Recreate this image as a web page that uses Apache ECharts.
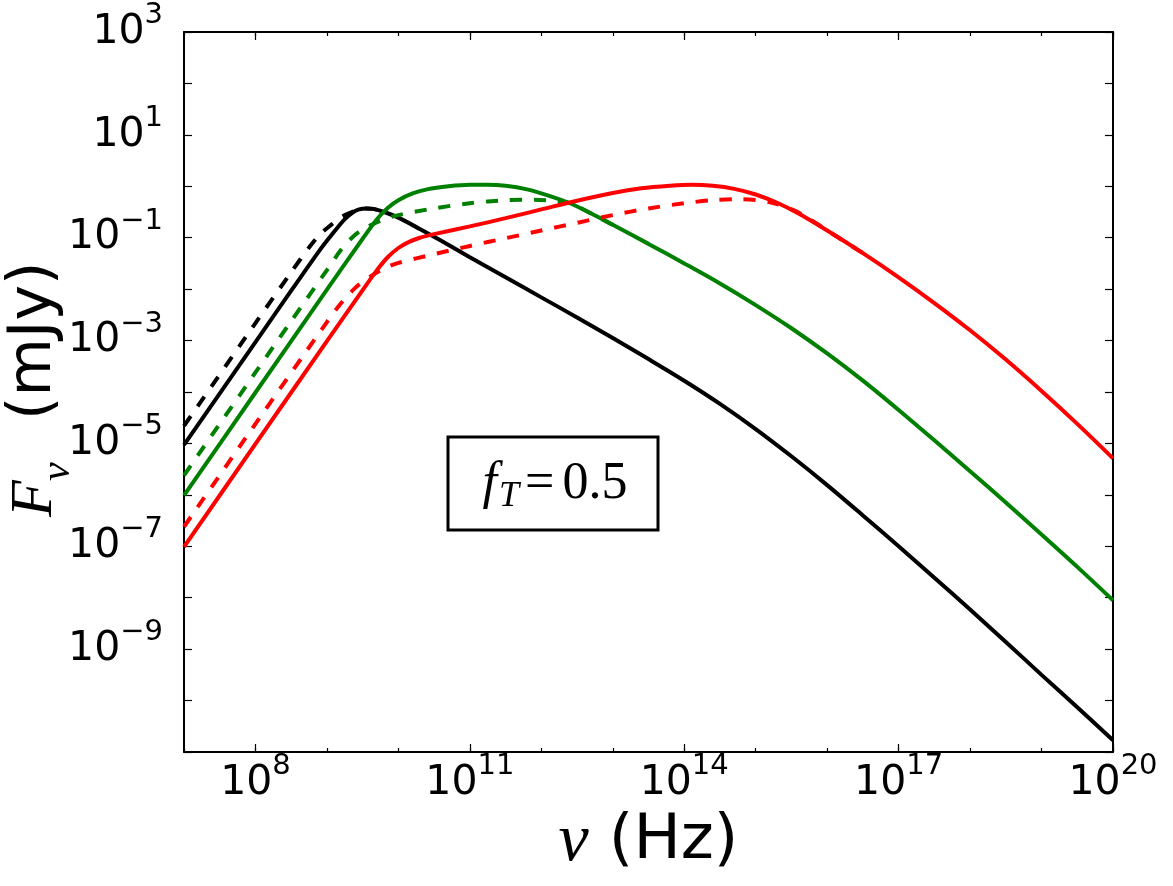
<!DOCTYPE html>
<html>
<head>
<meta charset="utf-8">
<title>F_nu spectrum</title>
<script src="https://cdn.jsdelivr.net/npm/echarts@6/dist/echarts.min.js"></script>
<style>
    html, body, #main {
        margin: 0;
        padding: 0;
        width: 1173px;
        height: 886px;
        background: #fff;
    }
</style>
</head>
<body>
<div id="main"></div>
<script>
    // all values are [log10(nu / Hz), log10(F_nu / mJy)]
    var blackSolid = [[7, -5.03], [8, -3.03], [8.5, -2.03], [8.9, -1.24], [9.05, -0.97], [9.15, -0.8], [9.25, -0.64],
        [9.35, -0.52], [9.45, -0.45], [9.55, -0.43], [9.65, -0.44], [9.8, -0.5], [10, -0.61], [10.3, -0.83],
        [10.6, -1.06], [11, -1.38], [11.5, -1.77], [12, -2.16], [12.5, -2.55], [13, -2.95], [13.5, -3.36],
        [14, -3.78], [14.5, -4.23], [15, -4.72], [15.5, -5.25], [16, -5.81], [16.5, -6.4], [17, -7.0],
        [17.5, -7.61], [18, -8.23], [18.5, -8.86], [19, -9.5], [19.5, -10.13], [20, -10.77]];
    var blackDashed = [[7, -4.66], [8, -2.66], [8.5, -1.67], [8.75, -1.19], [8.9, -0.94], [9.05, -0.76], [9.2, -0.6],
        [9.35, -0.5], [9.45, -0.45], [9.55, -0.43], [9.65, -0.44], [9.8, -0.5]];
    var greenSolid = [[7, -6.01], [8, -4.01], [9, -2.01], [9.5, -1.02], [9.7, -0.64], [9.85, -0.42], [10, -0.27],
        [10.2, -0.14], [10.4, -0.06], [10.7, 0.0], [11, 0.03], [11.25, 0.03], [11.5, 0.01], [11.8, -0.06],
        [12.1, -0.18], [12.4, -0.33], [12.7, -0.53], [13, -0.75], [13.5, -1.12], [14, -1.5], [14.5, -1.89],
        [15, -2.31], [15.5, -2.76], [16, -3.25], [16.5, -3.78], [17, -4.35], [17.5, -4.94], [18, -5.54],
        [18.5, -6.15], [19, -6.77], [19.5, -7.4], [20, -8.05]];
    var greenDashed = [[7, -5.62], [8, -3.62], [8.5, -2.62], [9, -1.63], [9.2, -1.23], [9.35, -1.0], [9.5, -0.84],
        [9.75, -0.67], [10, -0.56], [10.5, -0.43], [11, -0.33], [11.5, -0.27], [11.9, -0.26], [12.2, -0.29],
        [12.4, -0.33], [12.7, -0.53], [13, -0.75]];
    var redSolid = [[7, -7.01], [8, -5.01], [9, -3.01], [9.5, -2.02], [9.7, -1.63], [9.85, -1.38], [10, -1.2],
        [10.15, -1.08], [10.3, -1.0], [10.5, -0.93], [11, -0.78], [11.5, -0.62], [12, -0.45], [12.5, -0.28],
        [13, -0.13], [13.4, -0.04], [13.8, 0.01], [14.1, 0.03], [14.4, 0.01], [14.7, -0.05], [15, -0.16],
        [15.3, -0.32], [15.6, -0.53], [16, -0.86], [16.5, -1.3], [17, -1.77], [17.5, -2.27], [18, -2.8],
        [18.5, -3.37], [19, -3.98], [19.5, -4.62], [20, -5.29]];
    var redDashed = [[7, -6.62], [8, -4.62], [9, -2.64], [9.2, -2.27], [9.4, -1.97], [9.6, -1.76], [9.8, -1.6],
        [10, -1.49], [10.5, -1.32], [11, -1.16], [11.5, -1.01], [12, -0.86], [12.5, -0.71], [13, -0.56],
        [13.5, -0.43], [14, -0.33], [14.4, -0.27], [14.8, -0.25], [15.2, -0.31], [15.6, -0.51], [16, -0.86],
        [16.5, -1.3]];

    var xRange = [7, 20];          // decades of nu
    var yRange = [-11, 3];         // decades of F_nu
    var xLabelTicks = [8, 11, 14, 17, 20];
    var yLabelTicks = [3, 1, -1, -3, -5, -7, -9];
    var yTitle = ['F', '\u03bd', '(mJy)'];
    var annotation = ['f', 'T', '=', '0.5'];

    var L = 184, R = 1113, T = 32, B = 752;
    var decade = (R - L) / (xRange[1] - xRange[0]);

    var myChart = echarts.init(document.getElementById('main'));

    var sup = {
        b: {fontSize: 41, lineHeight: 62, fontFamily: 'DejaVu Sans', color: '#000'},
        s: {fontSize: 29, lineHeight: 29, verticalAlign: 'top', fontFamily: 'DejaVu Sans', color: '#000'}
    };
    function powLabel(v) {
        var n = Math.round(v);
        return '{b|10}{s|' + String(n).replace('-', '\u2212') + '}';
    }

    function line(data, color, dashed) {
        return {
            type: 'line',
            xAxisIndex: 0,
            yAxisIndex: 0,
            data: data,
            showSymbol: false,
            smooth: 0.3,
            animation: false,
            lineStyle: {color: color, width: 4, type: dashed ? [12, 12] : 'solid', cap: 'butt'}
        };
    }

    var frame = {show: true, onZero: false, lineStyle: {color: '#000', width: 2}};
    var noLine = {show: false, onZero: false};
    var tick = function (len) {
        return {inside: true, length: len, lineStyle: {color: '#000', width: 1.2}};
    };

    myChart.setOption({
        backgroundColor: '#fff',
        animation: false,
        grid: [
            {left: L, right: 1173 - R, top: T, bottom: 886 - B, outerBoundsMode: 'none'},
            {left: L + decade * (xLabelTicks[0] - xRange[0]), right: 1173 - R, top: T, bottom: 886 - B, outerBoundsMode: 'none'}
        ],
        xAxis: [
            {
                gridIndex: 0, type: 'value', position: 'bottom', min: xRange[0], max: xRange[1], interval: 1,
                axisLine: frame, axisTick: tick(4), axisLabel: {show: false}, splitLine: {show: false},
                name: '{i|\u03bd} (Hz)',
                nameLocation: 'middle',
                nameGap: 57,
                nameTextStyle: {
                    fontSize: 63, lineHeight: 66, fontFamily: 'DejaVu Sans', color: '#000',
                    rich: {i: {fontSize: 68, lineHeight: 66, fontFamily: 'Liberation Serif', fontStyle: 'italic', color: '#000'}}
                }
            },
            {
                gridIndex: 0, type: 'value', position: 'top', min: xRange[0], max: xRange[1], interval: 1,
                axisLine: frame, axisTick: tick(4), axisLabel: {show: false}, splitLine: {show: false}
            },
            {
                gridIndex: 1, type: 'value', position: 'bottom', min: xLabelTicks[0], max: xRange[1], interval: 3,
                axisLine: noLine, axisTick: tick(8), splitLine: {show: false},
                axisLabel: {
                    margin: 0,
                    formatter: function (v) { return xLabelTicks.indexOf(Math.round(v)) >= 0 ? powLabel(v) : ''; },
                    rich: sup
                }
            },
            {
                gridIndex: 1, type: 'value', position: 'top', min: xLabelTicks[0], max: xRange[1], interval: 3,
                axisLine: noLine, axisTick: tick(8), axisLabel: {show: false}, splitLine: {show: false}
            }
        ],
        yAxis: [
            {
                gridIndex: 0, type: 'value', position: 'left', min: yRange[0], max: yRange[1], interval: 1,
                axisLine: frame, axisTick: tick(8), splitLine: {show: false},
                axisLabel: {
                    margin: 21,
                    formatter: function (v) { return yLabelTicks.indexOf(Math.round(v)) >= 0 ? powLabel(v) : ''; },
                    rich: sup
                }
            },
            {
                gridIndex: 0, type: 'value', position: 'right', min: yRange[0], max: yRange[1], interval: 1,
                axisLine: frame, axisTick: tick(8), axisLabel: {show: false}, splitLine: {show: false}
            },
            {
                gridIndex: 1, type: 'value', min: yRange[0], max: yRange[1], show: false
            }
        ],
        graphic: [
            {
                // y axis title, rotated to read bottom to top
                type: 'group', x: 55, y: (T + B) / 2, rotation: Math.PI / 2,
                children: [
                    {type: 'text', x: -125, y: -20, style: {text: yTitle[0], fontSize: 60, fontFamily: 'Liberation Serif', fontStyle: 'italic', fill: '#000', align: 'left', verticalAlign: 'middle'}},
                    {type: 'text', x: -89, y: 3, style: {text: yTitle[1], fontSize: 42, fontFamily: 'Liberation Serif', fontStyle: 'italic', fill: '#000', align: 'left', verticalAlign: 'middle'}},
                    {type: 'text', x: -28, y: -21, style: {text: yTitle[2], fontSize: 60, fontFamily: 'DejaVu Sans', fill: '#000', align: 'left', verticalAlign: 'middle'}}
                ]
            },
            {
                type: 'rect', z: 100,
                shape: {x: 448, y: 437, width: 210, height: 93},
                style: {fill: '#fff', stroke: '#000', lineWidth: 3}
            },
            {
                type: 'text', z: 101, x: 555, y: 484,
                style: {
                    text: '{f|' + annotation[0] + '}{t|' + annotation[1] + '}{e|' + annotation[2] + '}{n|' + annotation[3] + '}',
                    align: 'center',
                    verticalAlign: 'middle',
                    rich: {
                        f: {fontSize: 52, lineHeight: 62, fontFamily: 'Liberation Serif', fontStyle: 'italic', fill: '#000', padding: [0, 2, 0, 0]},
                        t: {fontSize: 36, lineHeight: 42, verticalAlign: 'bottom', fontFamily: 'Liberation Serif', fontStyle: 'italic', fill: '#000'},
                        e: {fontSize: 52, lineHeight: 62, fontFamily: 'Liberation Serif', fill: '#000', padding: [0, 8, 0, 6]},
                        n: {fontSize: 52, lineHeight: 62, fontFamily: 'Liberation Serif', fill: '#000'}
                    }
                }
            }
        ],
        series: [
            line(blackSolid, '#000000', false),
            line(blackDashed, '#000000', true),
            line(greenSolid, '#008000', false),
            line(greenDashed, '#008000', true),
            line(redSolid, '#ff0000', false),
            line(redDashed, '#ff0000', true)
        ]
    });
</script>
</body>
</html>
